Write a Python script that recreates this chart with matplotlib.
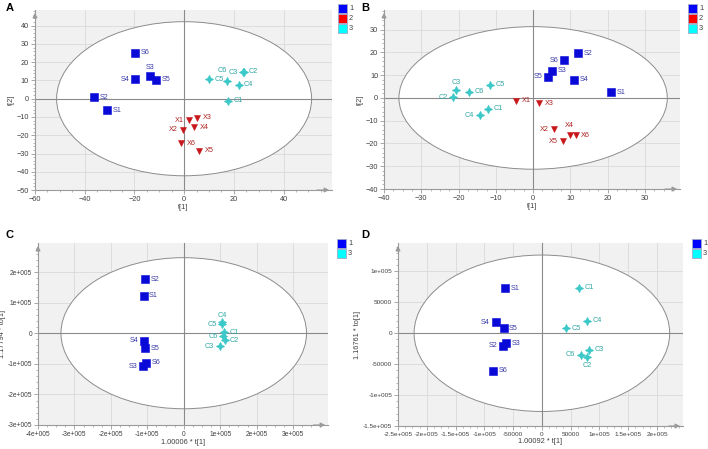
import matplotlib
matplotlib.use("Agg")
import matplotlib.pyplot as plt
from matplotlib.patches import Ellipse, Rectangle
from matplotlib.ticker import MultipleLocator, AutoMinorLocator, FuncFormatter

# ---------------- data ----------------
# Panel A (PCA scores t[1], t[2])
A_S_names = ["S1", "S2", "S3", "S4", "S5", "S6"]
A_S_x = [-31.0, -36.3, -13.8, -19.8, -11.2, -19.8]
A_S_y = [-6.4, 0.8, 12.3, 10.8, 10.3, 25.1]
A_X_names = ["X1", "X2", "X3", "X4", "X5", "X6"]
A_X_x = [2.0, -0.3, 5.3, 4.1, 6.1, -1.3]
A_X_y = [-11.9, -17.0, -10.4, -15.7, -28.6, -24.3]
A_C_names = ["C1", "C2", "C3", "C4", "C5", "C6"]
A_C_x = [17.7, 23.9, 23.6, 21.9, 10.2, 17.1]
A_C_y = [-1.2, 14.7, 14.4, 7.7, 10.8, 9.8]

# Panel B
B_S_names = ["S1", "S2", "S3", "S4", "S5", "S6"]
B_S_x = [21.0, 12.1, 5.1, 11.0, 4.0, 8.3]
B_S_y = [2.4, 19.6, 11.9, 8.0, 9.3, 16.6]
B_X_names = ["X1", "X2", "X3", "X4", "X5", "X6"]
B_X_x = [-4.5, 5.6, 1.6, 9.8, 8.1, 11.4]
B_X_y = [-1.3, -13.7, -2.3, -16.2, -19.1, -16.3]
B_C_names = ["C1", "C2", "C3", "C4", "C5", "C6"]
B_C_x = [-12.1, -21.4, -20.7, -14.3, -11.5, -17.2]
B_C_y = [-4.8, 0.2, 3.6, -7.7, 5.8, 2.8]

# Panel C (OPLS-DA, 1.00006*t[1] vs 1.17794*to[1])
C_S_names = ["S1", "S2", "S3", "S4", "S5", "S6"]
C_S_x = [-110000, -107000, -113000, -109000, -105000, -104000]
C_S_y = [122000, 177000, -108000, -24000, -49000, -97000]
C_C_names = ["C1", "C2", "C3", "C4", "C5", "C6"]
C_C_x = [111000, 112000, 99000, 105000, 106000, 108000]
C_C_y = [4000, -23000, -42000, 38000, 30000, -10000]

# Panel D (1.00092*t[1] vs 1.16761*to[1])
D_S_names = ["S1", "S2", "S3", "S4", "S5", "S6"]
D_S_x = [-63600, -67000, -61800, -80300, -66500, -84400]
D_S_y = [73000, -20300, -16500, 17600, 8200, -61000]
D_C_names = ["C1", "C2", "C3", "C4", "C5", "C6"]
D_C_x = [64200, 78600, 82100, 78600, 42200, 67600]
D_C_y = [73600, -39000, -26400, 20300, 8200, -34600]

# ---------------- style ----------------
BLUE = "#0a0ad8"
RED = "#c8161a"
CYAN = "#3cc8c8"
BLUE_T = "#3a3aa8"
RED_T = "#b02020"
CYAN_T = "#2fa6a6"
BG = "#f1f1f1"
GRID = "#dadada"
TXT = "#404040"
FS = 5.3
FS_PT = 5.2

plt.rcParams["font.family"] = ["Liberation Sans", "DejaVu Sans"]

fig = plt.figure(figsize=(7.08, 4.49), dpi=100)


def sci_fmt(v, pos=None):
    if abs(v) < 1e-9:
        return "0"
    if abs(v) < 1e5:
        return "%d" % int(round(v))
    m = v / 1e5
    return ("%g" % m) + "e+005"


def setup(rect, xlim, ylim, xmaj, ymaj, xminor, yminor, ell, xlabel, ylabel,
          fmt=None, tfs=FS):
    ax = fig.add_axes(rect)
    ax.set_facecolor(BG)
    ax.set_xlim(*xlim)
    ax.set_ylim(*ylim)
    ax.xaxis.set_major_locator(MultipleLocator(xmaj))
    ax.yaxis.set_major_locator(MultipleLocator(ymaj))
    ax.xaxis.set_minor_locator(AutoMinorLocator(xminor))
    ax.yaxis.set_minor_locator(AutoMinorLocator(yminor))
    if fmt is not None:
        ax.xaxis.set_major_formatter(FuncFormatter(fmt))
        ax.yaxis.set_major_formatter(FuncFormatter(fmt))
    ax.grid(True, which="major", color=GRID, lw=0.6, zorder=0)
    ax.set_axisbelow(True)
    for s in ["top", "right"]:
        ax.spines[s].set_visible(False)
    for s in ["left", "bottom"]:
        ax.spines[s].set_color("#9a9a9a")
        ax.spines[s].set_linewidth(0.8)
    ax.tick_params(which="major", direction="out", length=3, width=0.6,
                   color="#9a9a9a", labelsize=tfs, labelcolor=TXT, pad=1.2)
    ax.tick_params(which="minor", direction="out", length=1.6, width=0.5,
                   color="#9a9a9a")
    e = Ellipse((0, 0), 2 * ell[0], 2 * ell[1], facecolor="white",
                edgecolor="#8c8c8c", lw=0.7, zorder=1)
    ax.add_patch(e)
    ax.axhline(0, color="#8a8a8a", lw=0.8, zorder=2)
    ax.axvline(0, color="#8a8a8a", lw=0.8, zorder=2)
    # arrows at axis ends
    ax.annotate("", xy=(1.0, 0), xytext=(0.94, 0), xycoords="axes fraction",
                arrowprops=dict(arrowstyle="-|>", color="#9a9a9a", lw=0.8,
                                mutation_scale=7), annotation_clip=False)
    ax.annotate("", xy=(0, 1.0), xytext=(0, 0.94), xycoords="axes fraction",
                arrowprops=dict(arrowstyle="-|>", color="#9a9a9a", lw=0.8,
                                mutation_scale=7), annotation_clip=False)
    ax.set_xlabel(xlabel, fontsize=FS, color=TXT, labelpad=0.8)
    ax.set_ylabel(ylabel, fontsize=FS, color=TXT, labelpad=1.5)
    return ax


def draw(ax, names, xs, ys, marker, color, tcolor, ms, offs):
    ax.plot(xs, ys, linestyle="none", marker=marker, ms=ms, color=color,
            markeredgecolor=color, markeredgewidth=0.4, zorder=4)
    for n, x, y in zip(names, xs, ys):
        dx, dy, ha = offs.get(n, (4, 0, "left"))
        ax.annotate(n, (x, y), xytext=(dx, dy), textcoords="offset points",
                    fontsize=FS_PT, color=tcolor, ha=ha, va="center", zorder=5)


STAR = (4, 1, 0)
L = (-4, 0, "right")
U = (0, 5, "center")
D_ = (0, -5.5, "center")

# ---- Panel A ----
axA = setup([0.0494, 0.5768, 0.4195, 0.4009], (-60, 59.5), (-50, 48.6), 20, 10, 4, 5,
            (51.3, 42.2), "t[1]", "t[2]")
draw(axA, A_S_names, A_S_x, A_S_y, "s", BLUE, BLUE_T, 5.2,
     {"S3": (0, 6, "center"), "S4": L})
draw(axA, A_X_names, A_X_x, A_X_y, "v", RED, RED_T, 5.0,
     {"X1": L, "X2": L})
draw(axA, A_C_names, A_C_x, A_C_y, STAR, CYAN, CYAN_T, 6.0,
     {"C6": (-3, 7.5, "center"), "C3": (-3.5, 0, "right")})

# ---- Panel B ----
axB = setup([0.5424, 0.579, 0.418, 0.3987], (-40, 39.4), (-40, 38.6), 10, 10, 4, 5,
            (36.0, 31.3), "t[1]", "t[2]")
draw(axB, B_S_names, B_S_x, B_S_y, "s", BLUE, BLUE_T, 5.2,
     {"S6": L, "S5": L})
draw(axB, B_X_names, B_X_x, B_X_y, "v", RED, RED_T, 5.0,
     {"X2": L, "X5": L, "X4": (0, 7, "center")})
draw(axB, B_C_names, B_C_x, B_C_y, STAR, CYAN, CYAN_T, 6.0,
     {"C3": U, "C2": L, "C4": L})

# ---- Panel C ----
axC = setup([0.0537, 0.0535, 0.4096, 0.4053], (-4e5, 3.96e5), (-3e5, 2.95e5), 1e5, 1e5, 4, 5,
            (3.37e5, 2.47e5), "1.00006 * t[1]", "1.17794 * to[1]", fmt=sci_fmt, tfs=4.8)
draw(axC, C_S_names, C_S_x, C_S_y, "s", BLUE, BLUE_T, 5.2,
     {"S4": L, "S3": L})
draw(axC, C_C_names, C_C_x, C_C_y, STAR, CYAN, CYAN_T, 6.0,
     {"C4": (0, 4.5, "center"), "C5": L, "C6": L, "C3": L})

# ---- Panel D ----
axD = setup([0.5621, 0.0512, 0.4025, 0.4076], (-2.5e5, 2.45e5), (-1.5e5, 1.46e5), 5e4, 5e4, 4, 5,
            (2.22e5, 1.265e5), "1.00092 * t[1]", "1.16761 * to[1]", fmt=sci_fmt, tfs=4.6)
draw(axD, D_S_names, D_S_x, D_S_y, "s", BLUE, BLUE_T, 5.2,
     {"S4": L, "S2": L})
draw(axD, D_C_names, D_C_x, D_C_y, STAR, CYAN, CYAN_T, 6.0,
     {"C6": L, "C2": D_})

# ---------------- panel letters ----------------
for lbl, (px, py) in {"A": (6, 8), "B": (361, 8), "C": (6, 235), "D": (361, 235)}.items():
    fig.text(px / 708, 1 - py / 449, lbl, fontsize=8, fontweight="bold",
             ha="left", va="center")

# ---------------- legends ----------------
def legend(x0, y0, labels, colors):
    for i, (lab, c) in enumerate(zip(labels, colors)):
        yy = y0 + i * 10
        fig.patches.append(Rectangle((x0 / 708, 1 - (yy + 8.5) / 449), 8.5 / 708, 8.5 / 449,
                                     transform=fig.transFigure, facecolor=c,
                                     edgecolor="#a0a8c8", lw=0.6))
        fig.text((x0 + 11) / 708, 1 - (yy + 4.5) / 449, lab, fontsize=FS,
                 color=TXT, ha="left", va="center")

legend(338, 4, ["1", "2", "3"], ["#0000ff", "#ff0000", "#00ffff"])
legend(688, 4, ["1", "2", "3"], ["#0000ff", "#ff0000", "#00ffff"])
legend(337, 239, ["1", "3"], ["#0000ff", "#00ffff"])
legend(692, 239, ["1", "3"], ["#0000ff", "#00ffff"])

fig.savefig("out.png", dpi=100)
